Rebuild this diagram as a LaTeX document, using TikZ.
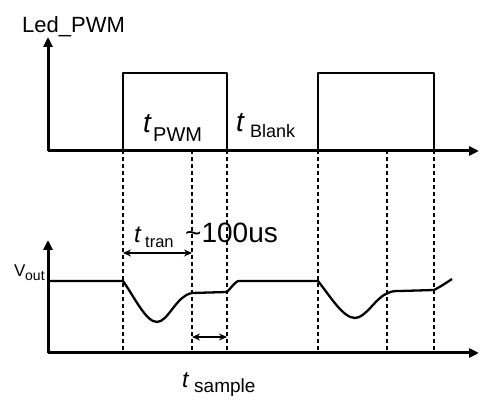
\documentclass[tikz,border=0pt]{standalone}
\usepackage{fontspec}
\setmainfont{Liberation Sans}
\usetikzlibrary{arrows.meta}
\begin{document}
\begin{tikzpicture}[x=1pt,y=-1pt,
  axis/.style={line width=3pt,-{Triangle[length=10pt,width=9pt]}},
  wave/.style={line width=2.3pt,line join=round},
  guide/.style={line width=1.2pt,dash pattern=on 4pt off 3pt},
  span/.style={line width=1.5pt,{Stealth[length=8pt,width=7pt]}-{Stealth[length=8pt,width=7pt]}},
  lbl/.style={inner sep=0pt,anchor=base west}]
\useasboundingbox (0,0) rectangle (480,411);
% guides
\foreach \gx/\gn in {123/a,192/b,227/c,318/d,387/e,434/f}{
  \coordinate (g\gn top) at (\gx,150);
  \coordinate (g\gn bot) at (\gx,353);
  \draw[guide] (g\gn top) -- (g\gn bot);
}
% axes
\coordinate (O1) at (48,151); \coordinate (Y1) at (48,37); \coordinate (X1) at (479,151);
\coordinate (O2) at (48,353); \coordinate (Y2) at (48,240); \coordinate (X2) at (479,353);
\draw[axis] (O1) -- (Y1);
\draw[axis] (O1) -- (X1);
\draw[axis] (O2) -- (Y2);
\draw[axis] (O2) -- (X2);
% pulses
\draw[wave] (123,150) -- (123,73) -- (227,73) -- (227,150);
\draw[wave] (318,150) -- (318,73) -- (434,73) -- (434,150);
% output waveform
\draw[wave] (48,281) -- (123,281)
  .. controls (135,298) and (146,322) .. (157,322)
  .. controls (168,322) and (176,296) .. (192,293)
  -- (227,292)
  .. controls (231,288) and (234,283) .. (238,281)
  -- (318,281)
  .. controls (330,296) and (343,318) .. (355,318)
  .. controls (366,318) and (376,297) .. (388,293)
  .. controls (392,291) and (395,291) .. (400,291)
  -- (434,290)
  .. controls (440,287) and (446,283) .. (452,279);
% spans
\draw[span] (123,253) -- (192,253);
\draw[span] (192,337) -- (227,337);
% labels
\node[lbl,font=\fontsize{22}{22}\selectfont] (led) at (22,33) {Led\_PWM};
\node[lbl,font=\fontsize{28}{28}\selectfont\itshape] (tp) at (143,133) {t};
\node[lbl,font=\fontsize{20}{20}\selectfont] (tps) at (153,142) {PWM};
\node[lbl,font=\fontsize{28}{28}\selectfont\itshape] (tb) at (236,132) {t};
\node[lbl,font=\fontsize{18}{18}\selectfont] (tbs) at (250,138) {Blank};
\node[lbl,font=\fontsize{24}{24}\selectfont\itshape] (tt) at (134,243) {t};
\node[lbl,font=\fontsize{16.5}{16.5}\selectfont] (tts) at (145,248) {tran};
\node[lbl,font=\fontsize{28}{28}\selectfont] (us) at (185,243) {\char"7E\relax 100us};
\node[lbl,font=\fontsize{23}{23}\selectfont\itshape] (ts) at (182,388) {t};
\node[lbl,font=\fontsize{19}{19}\selectfont] (tss) at (194,393) {sample};
\node[lbl,font=\fontsize{17}{17}\selectfont] (v) at (14,277) {V};
\node[lbl,font=\fontsize{14}{14}\selectfont] (vs) at (25,281) {out};
\end{tikzpicture}
\end{document}
